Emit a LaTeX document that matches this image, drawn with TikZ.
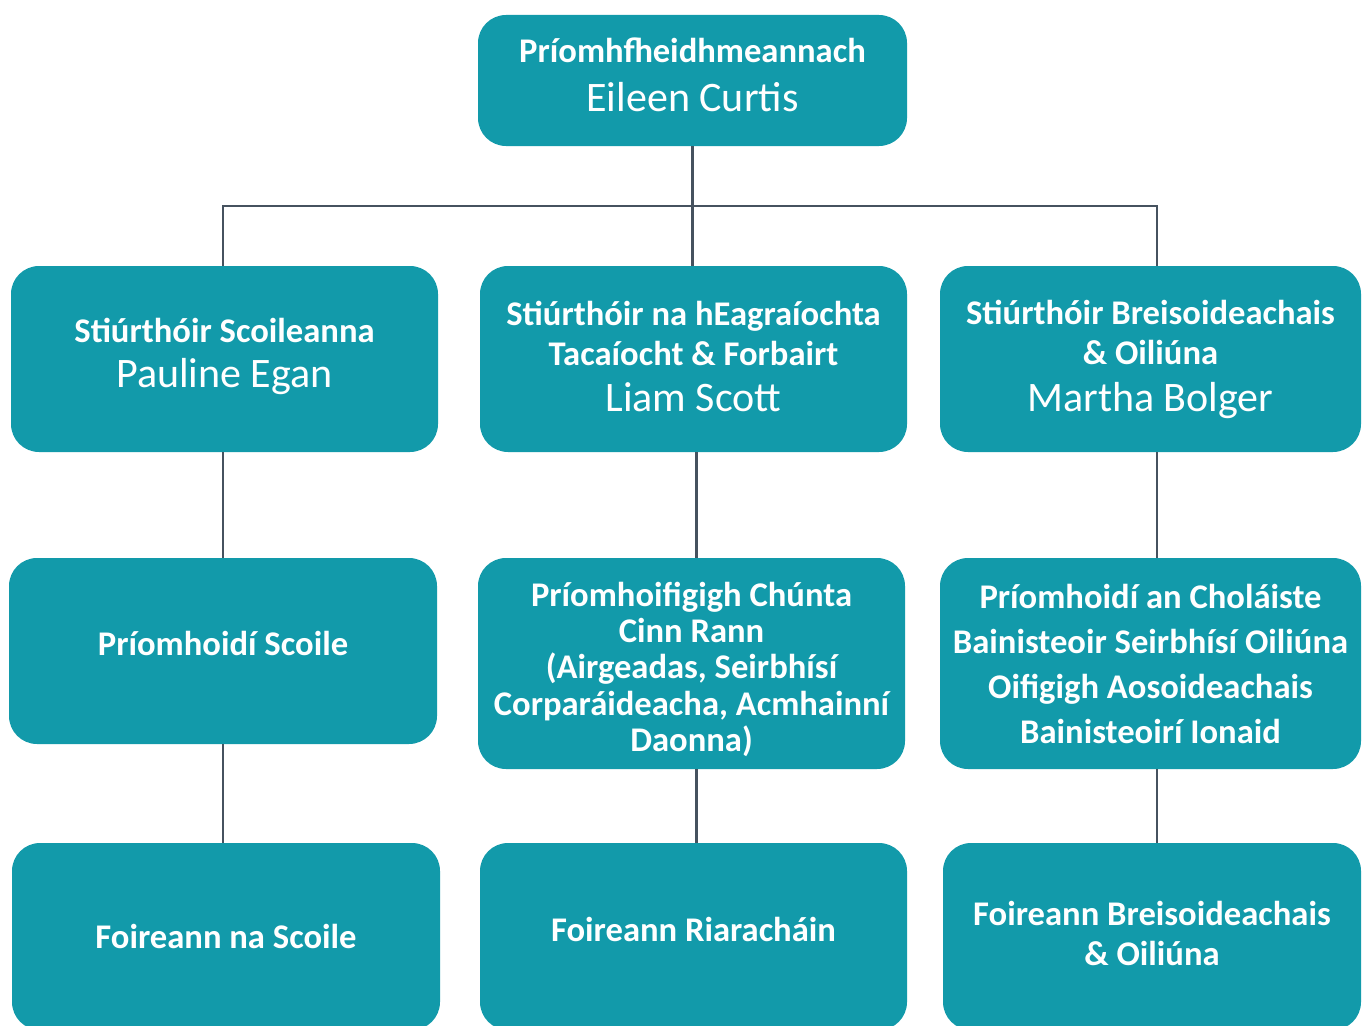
\documentclass[tikz,border=0pt]{standalone}
\usepackage{fontspec}
\setmainfont{Carlito}
\definecolor{boxteal}{HTML}{129AAA}
\definecolor{linegrey}{HTML}{46525F}
\def\person#1{{\mdseries\fontsize{42}{46}\selectfont #1}}
\def\lift#1{\rule[-#1]{0pt}{#1}}
\tikzset{
	unitbox/.style={fill=boxteal, rounded corners=28pt, text=white, align=center, inner sep=0pt,
		font=\fontsize{34.6}{40}\selectfont\bfseries},
	link/.style={draw=linegrey, line width=2.2pt},
}

\begin{document}
\begin{tikzpicture}[x=1pt, y=-1pt]
		%%%%% START %%%%%
		\useasboundingbox (0, 0) rectangle (1362, 1025);
		
		\node[unitbox, minimum width=429, minimum height=131] (ceo) at (692.5, 80.5) {Príomhfheidhmeannach\\[9pt]\person{Eileen Curtis}\lift{11pt}};
		
		\node[unitbox, minimum width=427, minimum height=186] (dsch) at (224.5, 359) {Stiúrthóir Scoileanna\\[5pt]\person{Pauline Egan}\lift{13pt}};
		\node[unitbox, minimum width=427, minimum height=186] (dorg) at (693.5, 359) {Stiúrthóir na hEagraíochta\\Tacaíocht \& Forbairt\\[6pt]\person{Liam Scott}\lift{6pt}};
		\node[unitbox, minimum width=421, minimum height=186] (dfe) at (1150.5, 359) {Stiúrthóir Breisoideachais\\\& Oiliúna\\[7pt]\person{Martha Bolger}};
		
		\node[unitbox, minimum width=428, minimum height=186] (psch) at (223, 651) {Príomhoidí Scoile\lift{16pt}};
		\node[unitbox, minimum width=427, minimum height=211, font=\fontsize{34.6}{36.3}\selectfont\bfseries] (aps) at (691.5, 663.5) {\rule{0pt}{36pt}Príomhoifigigh Chúnta\\Cinn Rann\\(Airgeadas, Seirbhísí\\Corparáideacha, Acmhainní\\Daonna)\lift{4pt}};
		\node[unitbox, minimum width=421, minimum height=211] (pcol) at (1150.5, 663.5) {Príomhoidí an Choláiste\\[5pt]Bainisteoir Seirbhísí Oiliúna\\[5pt]Oifigigh Aosoideachais\\[5pt]Bainisteoirí Ionaid};
		
		\node[unitbox, minimum width=428, minimum height=187] (fsch) at (226, 936.5) {Foireann na Scoile};
		\node[unitbox, minimum width=427, minimum height=187] (fadm) at (693.5, 936.5) {Foireann Riaracháin\lift{14pt}};
		\node[unitbox, minimum width=418, minimum height=187] (ffe) at (1152, 936.5) {Foireann Breisoideachais\\\& Oiliúna\lift{6pt}};
		
		% top level to the three directors
		\draw[link] (ceo.south) -- (ceo.south |- dorg.north);
		\draw[link] ([xshift=-1.5pt]dsch.north) -- ++(0, -60) -| ([xshift=6.5pt]dfe.north);
		
		% down each column
		\draw[link] ([xshift=-1.5pt]dsch.south) -- ([xshift=-1.5pt]dsch.south |- psch.north);
		\draw[link] (psch.south) -- (psch.south |- fsch.north);
		\draw[link] ([xshift=3pt]dorg.south) -- ([xshift=3pt]dorg.south |- aps.north);
		\draw[link] ([xshift=5pt]aps.south) -- ([xshift=5pt]aps.south |- fadm.north);
		\draw[link] ([xshift=6.5pt]dfe.south) -- ([xshift=6.5pt]dfe.south |- pcol.north);
		\draw[link] ([xshift=6.5pt]pcol.south) -- ([xshift=6.5pt]pcol.south |- ffe.north);
		
		%%%%% END %%%%%
\end{tikzpicture}
\end{document}
